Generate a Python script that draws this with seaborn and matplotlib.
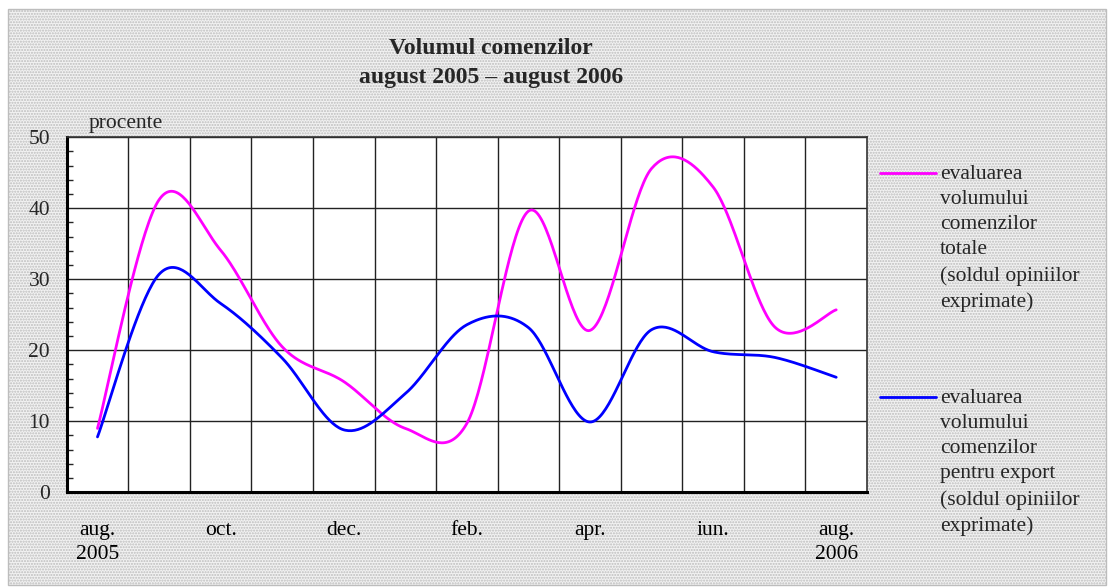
import numpy as np
import pandas as pd
import matplotlib
matplotlib.use("Agg")
import matplotlib.pyplot as plt
import seaborn as sns
from matplotlib.patches import Rectangle
from matplotlib.lines import Line2D

# monthly balance of opinions, aug 2005 - aug 2006
months = ["aug. 2005", "sep.", "oct.", "nov.", "dec.", "ian.", "feb.",
          "mar.", "apr.", "mai", "iun.", "iul.", "aug. 2006"]
tick_labels = ["aug.\n2005", "", "oct.", "", "dec.", "", "feb.",
               "", "apr.", "", "iun.", "", "aug.\n2006"]
total_orders = [9.0, 41.2, 34.1, 20.5, 15.6, 9.0, 9.7, 39.6, 22.8, 45.6, 43.0, 23.3, 25.7]
export_orders = [7.8, 30.7, 26.6, 18.9, 8.8, 13.9, 23.6, 23.2, 9.9, 22.9, 19.8, 19.0, 16.2]
series_names = ["evaluarea\nvolumului\ncomenzilor\ntotale\n(soldul opiniilor\nexprimate)",
                "evaluarea\nvolumului\ncomenzilor\npentru export\n(soldul opiniilor\nexprimate)"]
series_colors = ["#ff00ff", "#0000ff"]


def smooth(values, steps=40):
    # excel-like smoothed line: cubic bezier through the points
    p = np.column_stack([np.arange(len(values)), values]).astype(float)
    ext = np.vstack([p[0], p, p[-1]])
    t = np.linspace(0, 1, steps)[:, None]
    out = []
    for i in range(len(p) - 1):
        p0, p1, p2, p3 = ext[i], ext[i + 1], ext[i + 2], ext[i + 3]
        c1 = p1 + (p2 - p0) / 6
        c2 = p2 - (p3 - p1) / 6
        seg = (1 - t) ** 3 * p1 + 3 * (1 - t) ** 2 * t * c1 + 3 * (1 - t) * t ** 2 * c2 + t ** 3 * p2
        out.append(seg if i == 0 else seg[1:])
    return np.vstack(out)


frames = []
for name, vals in zip(series_names, [total_orders, export_orders]):
    pts = smooth(vals)
    frames.append(pd.DataFrame({"x": pts[:, 0], "y": pts[:, 1], "series": name}))
df = pd.concat(frames, ignore_index=True)

sns.set_style("white")
plt.rcParams["font.family"] = ["Liberation Serif", "DejaVu Serif"]
plt.rcParams["hatch.linewidth"] = 1.0

fig = plt.figure(figsize=(11.12, 5.87), dpi=100)
fig.patch.set_facecolor("white")
bg = Rectangle((8 / 1112, 1 - 585 / 587), 1098 / 1112, 576 / 587, transform=fig.transFigure,
               facecolor="#f2f2f2", hatch="......", lw=1.0, zorder=-10)
bg.set_edgecolor("#bdbdbd")
fig.add_artist(bg)

ax = fig.add_axes([66.7 / 1112, 1 - 492.3 / 587, 800.3 / 1112, 355 / 587])
ax.set_facecolor("white")

sns.lineplot(data=df, x="x", y="y", hue="series", palette=series_colors, sort=False,
             estimator=None, lw=2.0, legend=False, ax=ax, zorder=5)

ax.set_xlim(-0.5, len(months) - 0.5)
ax.set_ylim(0, 50)
ax.set_xticks(range(len(months)))
ax.set_xticklabels(tick_labels, fontsize=15.5, linespacing=1.32)
ax.set_xticks(np.arange(0.5, len(months) - 1, 1), minor=True)
ax.set_yticks(range(0, 51, 10))
ax.set_yticks(range(0, 51, 2), minor=True)
ax.tick_params(axis="x", which="both", length=0, pad=21, colors="black")
ax.tick_params(axis="y", which="major", direction="out", length=5, width=1.2, pad=7, labelsize=15.5)
ax.tick_params(axis="y", which="minor", direction="in", length=4, width=1.0, left=True)
ax.set_xlabel("")
ax.set_ylabel("")

ax.grid(False)
ax.xaxis.grid(True, which="minor", color="#222222", lw=1.0)
ax.yaxis.grid(True, which="major", color="#222222", lw=1.0)

for side in ["left", "bottom"]:
    ax.spines[side].set_linewidth(2.2)
    ax.spines[side].set_color("black")
for side in ["top", "right"]:
    ax.spines[side].set_linewidth(1.2)
    ax.spines[side].set_color("#333333")

fig.text(491 / 1112, 1 - 48 / 587, "Volumul comenzilor", ha="center", va="center",
         fontsize=17, fontweight="bold")
fig.text(491 / 1112, 1 - 78 / 587, "august 2005 \u2013 august 2006", ha="center", va="center",
         fontsize=17, fontweight="bold")
fig.text(89 / 1112, 1 - 123 / 587, "procente", ha="left", va="center", fontsize=15.5)

# legend drawn on the right, one block per series
for name, color, y0 in zip(series_names, series_colors, [173, 397]):
    fig.add_artist(Line2D([880 / 1112, 936 / 1112], [1 - y0 / 587, 1 - y0 / 587],
                          transform=fig.transFigure, color=color, lw=2.0))
    fig.text(940 / 1112, 1 - (y0 - 8) / 587, name, ha="left", va="top",
             fontsize=15.5, linespacing=1.44)

fig.savefig("out.png", dpi=100)
